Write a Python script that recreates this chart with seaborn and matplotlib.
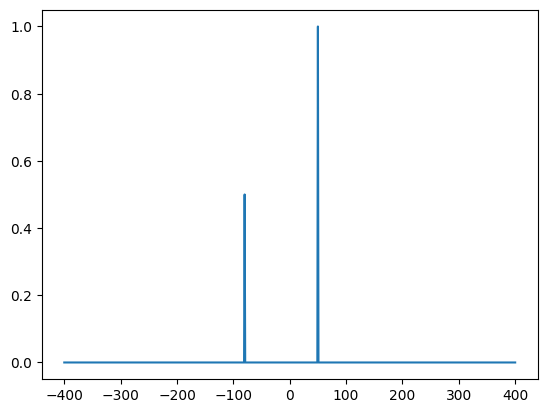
import matplotlib
matplotlib.use("Agg")
import matplotlib.pyplot as plt
import seaborn as sns

# Spectrum: flat baseline with two narrow peaks
freq = [-400, -81, -80, -79, 49, 50, 51, 400]
amplitude = [0.0, 0.0, 0.5, 0.0, 0.0, 1.0, 0.0, 0.0]

fig, ax = plt.subplots(figsize=(6.4, 4.8), dpi=100)
sns.lineplot(x=freq, y=amplitude, ax=ax, color="#1f77b4", linewidth=1.5)
ax.set_xticks([-400, -300, -200, -100, 0, 100, 200, 300, 400])
fig.savefig("out.png", dpi=100, bbox_inches="tight")
